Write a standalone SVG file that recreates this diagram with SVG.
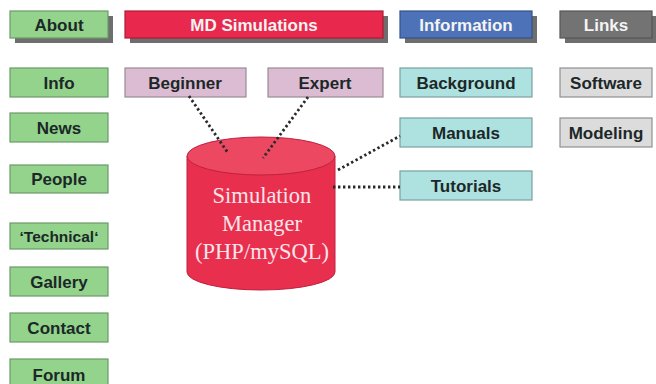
<svg xmlns="http://www.w3.org/2000/svg" width="656" height="384" viewBox="0 0 656 384">
  <style>
    .box { stroke-width: 1.2; }
    .green { fill: #93d38c; stroke: #6c9a6a; }
    .pink { fill: #dcbcd2; stroke: #9a8a94; }
    .cyan { fill: #aee2e0; stroke: #7aa0a0; }
    .lgray { fill: #dcdcdc; stroke: #909090; }
    .shadow { fill: #6e6e6e; }
    .lbl { font-family: "Liberation Sans", Arial, sans-serif; font-weight: bold; font-size: 17px; text-anchor: middle; fill: #1c2828; }
    .hdr { fill: #f4f4f4; }
    .conn { fill: none; stroke: #2a2a2a; stroke-width: 2.8; stroke-dasharray: 2.4 2.6; }
    .dbtext { font-family: "Liberation Serif", "Times New Roman", serif; font-size: 22.5px; text-anchor: middle; fill: #fbe4ea; }
  </style>
  <rect width="656" height="384" fill="#ffffff"/>

  <!-- header tabs with drop shadows -->
  <g id="about">
    <rect class="shadow" x="15" y="16" width="98" height="27"/>
    <rect class="box green" x="10" y="11" width="98" height="27"/>
    <text class="lbl" x="59" y="31">About</text>
  </g>
  <g id="md-simulations">
    <rect class="shadow" x="130" y="16" width="258" height="27"/>
    <rect class="box" x="125" y="11" width="258" height="27" fill="#e8284c" stroke="#b01a36"/>
    <text class="lbl hdr" x="254" y="31">MD Simulations</text>
  </g>
  <g id="information">
    <rect class="shadow" x="405" y="16" width="132" height="27"/>
    <rect class="box" x="400" y="11" width="132" height="27" fill="#4d72b8" stroke="#33528a"/>
    <text class="lbl hdr" x="466" y="31">Information</text>
  </g>
  <g id="links">
    <rect class="shadow" x="565" y="16" width="92" height="27"/>
    <rect class="box" x="560" y="11" width="92" height="27" fill="#737373" stroke="#555"/>
    <text class="lbl hdr" x="606" y="31">Links</text>
  </g>

  <!-- left column -->
  <g id="info"><rect class="box green" x="10" y="68" width="98" height="29"/><text class="lbl" x="59" y="89">Info</text></g>
  <g id="news"><rect class="box green" x="10" y="113" width="98" height="29"/><text class="lbl" x="59" y="134">News</text></g>
  <g id="people"><rect class="box green" x="10" y="165" width="98" height="28"/><text class="lbl" x="59" y="185">People</text></g>
  <g id="technical"><rect class="box green" x="10" y="223" width="98" height="26"/><text class="lbl" x="59" y="242" style="font-size:15.5px">‘Technical‘</text></g>
  <g id="gallery"><rect class="box green" x="10" y="267" width="98" height="29"/><text class="lbl" x="59" y="288">Gallery</text></g>
  <g id="contact"><rect class="box green" x="10" y="313" width="98" height="29"/><text class="lbl" x="59" y="334">Contact</text></g>
  <g id="forum"><rect class="box green" x="10" y="359" width="98" height="30"/><text class="lbl" x="59" y="381">Forum</text></g>

  <!-- MD Simulations column -->
  <g id="beginner"><rect class="box pink" x="125" y="68" width="121" height="29"/><text class="lbl" x="185" y="89">Beginner</text></g>
  <g id="expert"><rect class="box pink" x="268" y="68" width="115" height="29"/><text class="lbl" x="325" y="89">Expert</text></g>

  <!-- Information column -->
  <g id="background"><rect class="box cyan" x="400" y="68" width="132" height="29"/><text class="lbl" x="466" y="89">Background</text></g>
  <g id="manuals"><rect class="box cyan" x="400" y="118" width="132" height="29"/><text class="lbl" x="466" y="139">Manuals</text></g>
  <g id="tutorials"><rect class="box cyan" x="400" y="171" width="132" height="29"/><text class="lbl" x="466" y="192">Tutorials</text></g>

  <!-- Links column -->
  <g id="software"><rect class="box lgray" x="560" y="68" width="92" height="29"/><text class="lbl" x="606" y="89">Software</text></g>
  <g id="modeling"><rect class="box lgray" x="560" y="118" width="92" height="29"/><text class="lbl" x="606" y="139">Modeling</text></g>

  <!-- database cylinder -->
  <g id="simulation-manager">
    <path d="M187,156 L187,272 A74,18 0 0 0 335,272 L335,156 Z" fill="#e8304e" stroke="#c02040" stroke-width="1"/>
    <ellipse cx="261" cy="156" rx="74" ry="19" fill="#ec4862" stroke="#c02040" stroke-width="1"/>
    <text class="dbtext" x="262" y="203">Simulation</text>
    <text class="dbtext" x="262" y="231">Manager</text>
    <text class="dbtext" x="262" y="259">(PHP/mySQL)</text>
  </g>

  <!-- dotted connectors -->
  <g id="connectors">
    <line class="conn" x1="189" y1="96" x2="228" y2="153"/>
    <line class="conn" x1="308" y1="97" x2="263" y2="158"/>
    <line class="conn" x1="338" y1="170" x2="400" y2="136"/>
    <line class="conn" x1="333" y1="187" x2="400" y2="187"/>
  </g>
</svg>
